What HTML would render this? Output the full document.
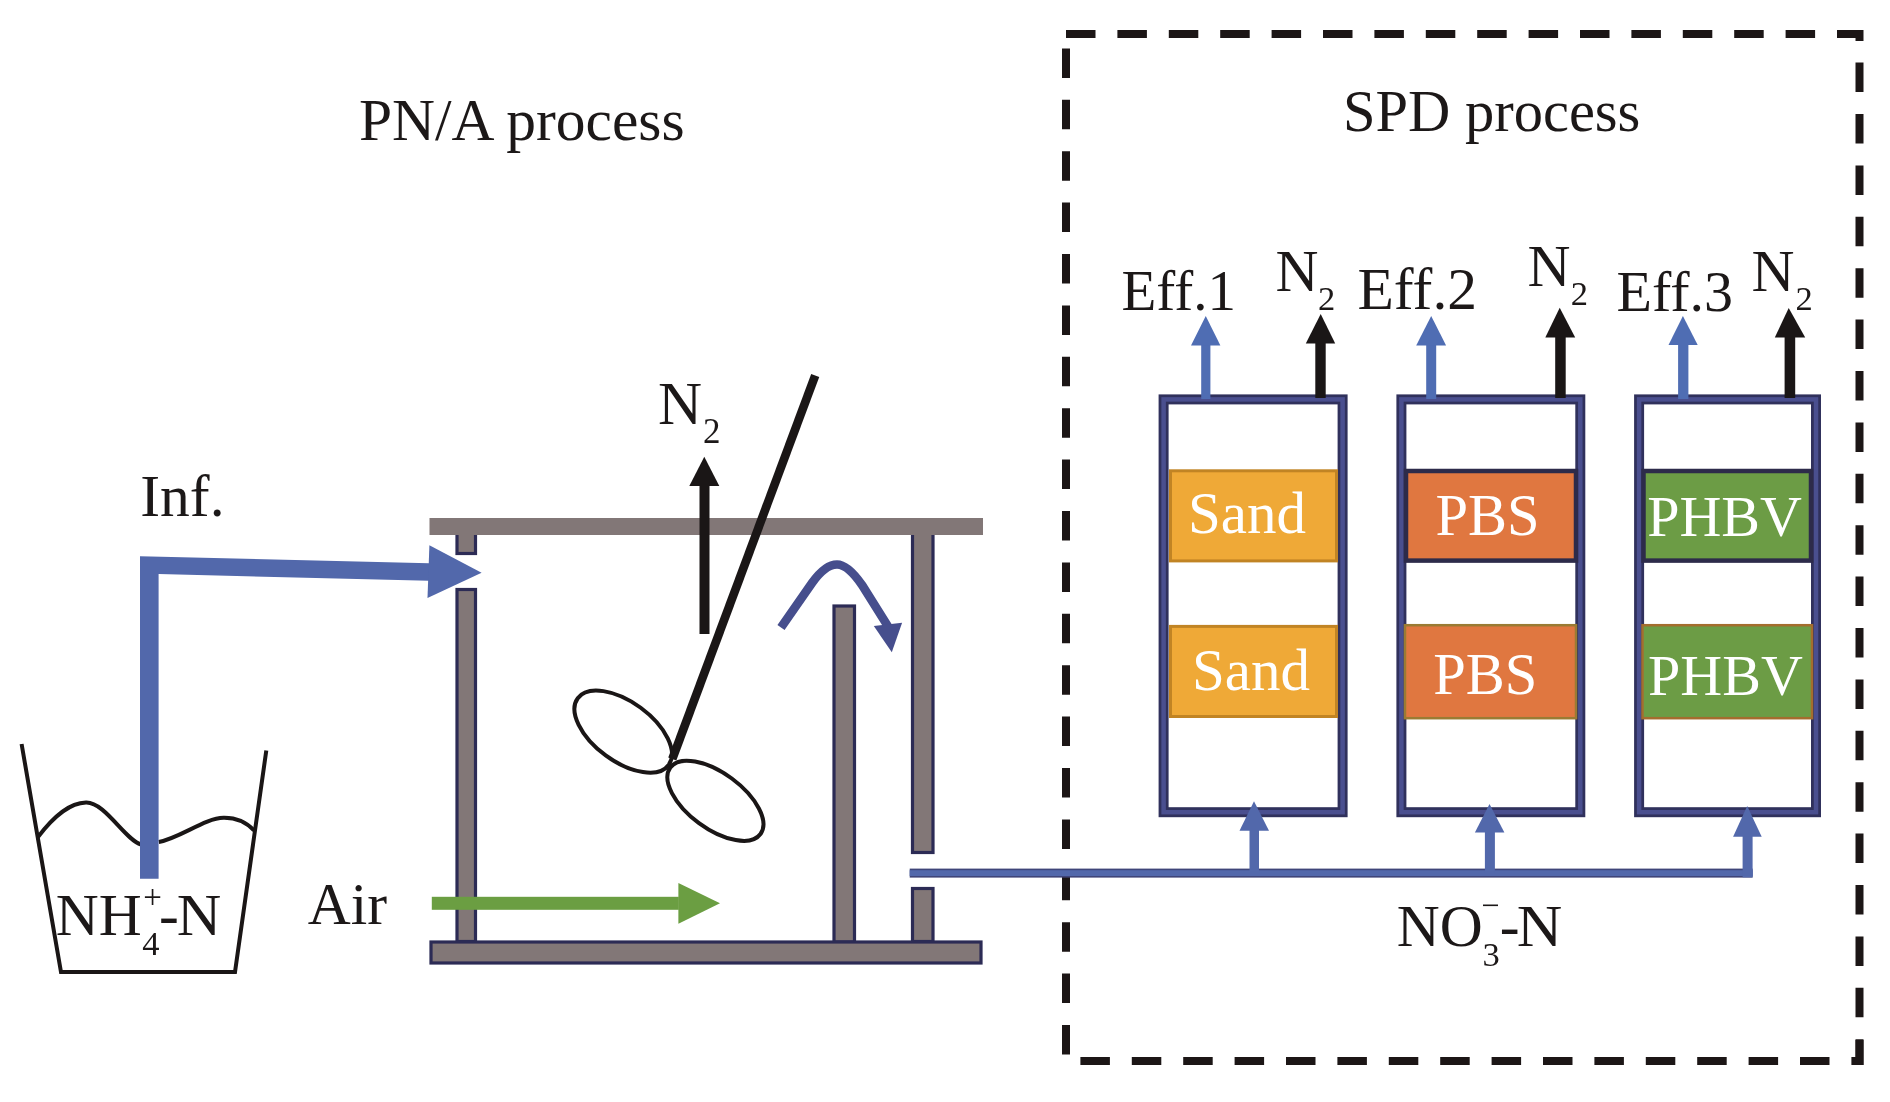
<!DOCTYPE html>
<html><head><meta charset="utf-8"><style>
html,body{margin:0;padding:0;background:#fff;width:1890px;height:1102px;overflow:hidden}
svg{display:block;will-change:transform}
text{font-family:"Liberation Serif",serif}
</style></head><body>
<svg width="1890" height="1102" viewBox="0 0 1890 1102">
<rect width="1890" height="1102" fill="#fff"/>
<!-- dashed SPD box -->
<g stroke="#1c1616" stroke-width="8" fill="none">
<line x1="1066" y1="34" x2="1863" y2="34" stroke-dasharray="29.5 21.9"/>
<line x1="1066" y1="48.4" x2="1066" y2="1062" stroke-dasharray="29.5 21.9"/>
<line x1="1859.5" y1="62.6" x2="1859.5" y2="1065" stroke-dasharray="29.5 21.9"/>
<line x1="1080.4" y1="1061" x2="1863" y2="1061" stroke-dasharray="29.5 21.9"/>
<line x1="1859.5" y1="30" x2="1859.5" y2="41"/>
<line x1="1859.5" y1="1040" x2="1859.5" y2="1065"/>
</g>

<!-- ===== PN/A reactor ===== -->
<g id="reactor">
<!-- walls: navy outline + gray fill -->
<g fill="#827777" stroke="#2c2b55" stroke-width="3.2">
<rect x="457" y="530" width="18.5" height="23.5"/>
<rect x="457" y="589.5" width="18.5" height="352"/>
<rect x="834" y="606" width="20.5" height="336"/>
<rect x="912.5" y="530" width="20.5" height="322.5"/>
<rect x="912.5" y="888.5" width="20.5" height="53"/>
<rect x="431" y="942" width="550" height="21"/>
</g>
<!-- top bar -->
<rect x="429.5" y="518" width="553.5" height="17" fill="#827777"/>
</g>

<!-- beaker -->
<g stroke="#1a1616" stroke-width="4" fill="none" stroke-linejoin="miter">
<polyline points="21.6,744 61,972 235,972 266.3,750.5"/>
<path d="M38,837 C55,815 70,803 86,802.6 C105,802 125,840 141,844.5"/>
<path d="M158.8,842 C180,838 205,818 223.6,817.8 C238,817.6 248,824 254,830.5"/>
</g>

<!-- influent pipe -->
<polygon points="140,556.2 429,563.2 429,580.8 158.6,574 158.6,878.8 140,878.8" fill="#5268ab"/>
<polygon points="429.4,545.2 481.6,572.8 427.5,597.9" fill="#5268ab"/>

<!-- reactor N2 arrow -->
<rect x="699.5" y="484" width="10" height="150" fill="#1a1616"/>
<polygon points="689.3,486 704.3,456.7 719.3,486" fill="#1a1616"/>

<!-- stirrer -->
<line x1="672.3" y1="759" x2="815.2" y2="375.5" stroke="#1a1616" stroke-width="8.6"/>
<ellipse cx="623.2" cy="731.6" rx="56.4" ry="29.6" transform="rotate(36.3 623.2 731.6)" fill="none" stroke="#1a1616" stroke-width="4"/>
<ellipse cx="715.4" cy="800.8" rx="56" ry="27.7" transform="rotate(36.4 715.4 800.8)" fill="none" stroke="#1a1616" stroke-width="4"/>

<!-- overflow curved arrow -->
<path d="M781,627.5 L812,583 C822,569 830,564.5 837,564.5 C845,564.5 853,572 862,585 L889,628" fill="none" stroke="#464e8d" stroke-width="8.7"/>
<polygon points="873.8,626 902.1,622.8 891.8,652.2" fill="#464e8d"/>

<!-- air arrow -->
<rect x="431.8" y="896.8" width="247" height="13" fill="#6b9e42"/>
<polygon points="678.4,882.9 720,903.3 678.4,923.7" fill="#6b9e42"/>

<!-- SPD columns -->
<g fill="none" stroke="#30315c" stroke-width="10">
<rect x="1163.6" y="399.4" width="179" height="412.8"/>
<rect x="1401.4" y="399.4" width="178.9" height="412.8"/>
<rect x="1639.1" y="399.4" width="176.9" height="412.8"/>
</g>
<g fill="none" stroke="#4a4f8f" stroke-width="4.5">
<rect x="1163.6" y="399.4" width="179" height="412.8"/>
<rect x="1401.4" y="399.4" width="178.9" height="412.8"/>
<rect x="1639.1" y="399.4" width="176.9" height="412.8"/>
</g>
<!-- media -->
<rect x="1170.5" y="470.8" width="166" height="90.1" fill="#efa937" stroke="#c18424" stroke-width="3"/>
<rect x="1170.5" y="626.4" width="166" height="90.1" fill="#efa937" stroke="#c18424" stroke-width="3"/>
<rect x="1406" y="471" width="170" height="89.6" fill="#e07740" stroke="#2d2b4a" stroke-width="4.5"/>
<rect x="1405" y="625.2" width="171" height="93" fill="#e07740" stroke="#9a7b33" stroke-width="2.5"/>
<rect x="1643.5" y="471" width="167.5" height="89.6" fill="#6c9c45" stroke="#2d2b4a" stroke-width="4.5"/>
<rect x="1642.5" y="625.2" width="169.5" height="93" fill="#6c9c45" stroke="#a46d2e" stroke-width="2.5"/>

<!-- NO3 pipe -->
<g fill="#5268ab">
<rect x="909.7" y="868.6" width="842.9" height="9" fill="#3f4579"/>
<rect x="909.7" y="870.2" width="842.9" height="5.8"/>
<rect x="1249.5" y="828" width="9.5" height="45"/>
<polygon points="1239.5,830.8 1254,801.3 1269,830.8"/>
<rect x="1484.9" y="830" width="10" height="43"/>
<polygon points="1474.9,832.6 1489.5,804 1504.4,832.6"/>
<rect x="1742.6" y="834" width="10" height="43.3"/>
<polygon points="1733.1,836.7 1747.2,806 1761.7,836.7"/>
</g>

<!-- outlet arrows -->
<g fill="#4f6db3">
<rect x="1201.2" y="343" width="9.2" height="56"/>
<polygon points="1191,345.4 1205.75,316 1220.4,345.4"/>
<rect x="1426.2" y="343" width="10" height="56"/>
<polygon points="1416.2,345.4 1431.2,316 1446.1,345.4"/>
<rect x="1678.1" y="343" width="10.3" height="56"/>
<polygon points="1668.5,345.1 1682.9,316 1697.7,345.1"/>
</g>
<g fill="#1a1616">
<rect x="1315.3" y="341" width="10.4" height="57"/>
<polygon points="1305.8,343.4 1320.7,314 1335.2,343.4"/>
<rect x="1555.2" y="335" width="10.5" height="63"/>
<polygon points="1545.3,337.4 1559.7,307.8 1575.2,337.4"/>
<rect x="1784.6" y="335" width="10.6" height="63"/>
<polygon points="1774.8,337.4 1788.7,308 1805.2,337.4"/>
</g>

<!-- texts -->
<g fill="#1c1818">
<text x="359" y="140" font-size="59.5">PN/A process</text>
<text x="1343" y="131" font-size="58.5">SPD process</text>
<text x="1121.5" y="309.8" font-size="57">Eff.1</text>
<text x="1275.5" y="290.8" font-size="59.5">N</text>
<text x="1318" y="309.8" font-size="34.5">2</text>
<text x="1357.5" y="309" font-size="59.5">Eff.2</text>
<text x="1527.5" y="285.9" font-size="59.5">N</text>
<text x="1570.8" y="304.8" font-size="34.5">2</text>
<text x="1616.5" y="311" font-size="58">Eff.3</text>
<text x="1751.5" y="291.2" font-size="59.5">N</text>
<text x="1795.6" y="310.1" font-size="34.5">2</text>
<text x="658" y="424" font-size="61">N</text>
<text x="703" y="442.9" font-size="35">2</text>
<text x="140.3" y="515.9" font-size="59.5">Inf.</text>
<text x="307.7" y="924" font-size="59.5">Air</text>
<text x="55.8" y="935" font-size="59.5">NH</text>
<text x="143.2" y="907.7" font-size="33">+</text>
<text x="142.2" y="954.8" font-size="34.5">4</text>
<text x="159" y="935" font-size="59.5">-</text>
<text transform="translate(176.7 935) scale(1.037 1)" font-size="59.5">N</text>
<text x="1396.7" y="946" font-size="59.5">NO</text>
<text x="1482.5" y="965.7" font-size="34.5">3</text>
<rect x="1483" y="904.5" width="15" height="1.6"/>
<text x="1499.8" y="946" font-size="59.5">-</text>
<text transform="translate(1516.7 946) scale(1.06 1)" font-size="59.5">N</text>
</g>
<g fill="#fff">
<text x="1188" y="532.5" font-size="59">Sand</text>
<text x="1192" y="690" font-size="59">Sand</text>
<text x="1435.4" y="535.2" font-size="58.5">PBS</text>
<text x="1433.3" y="693.5" font-size="58.5">PBS</text>
<text x="1647.2" y="536.1" font-size="58">PHBV</text>
<text x="1648.1" y="694.7" font-size="58">PHBV</text>
</g>
</svg>
</body></html>
